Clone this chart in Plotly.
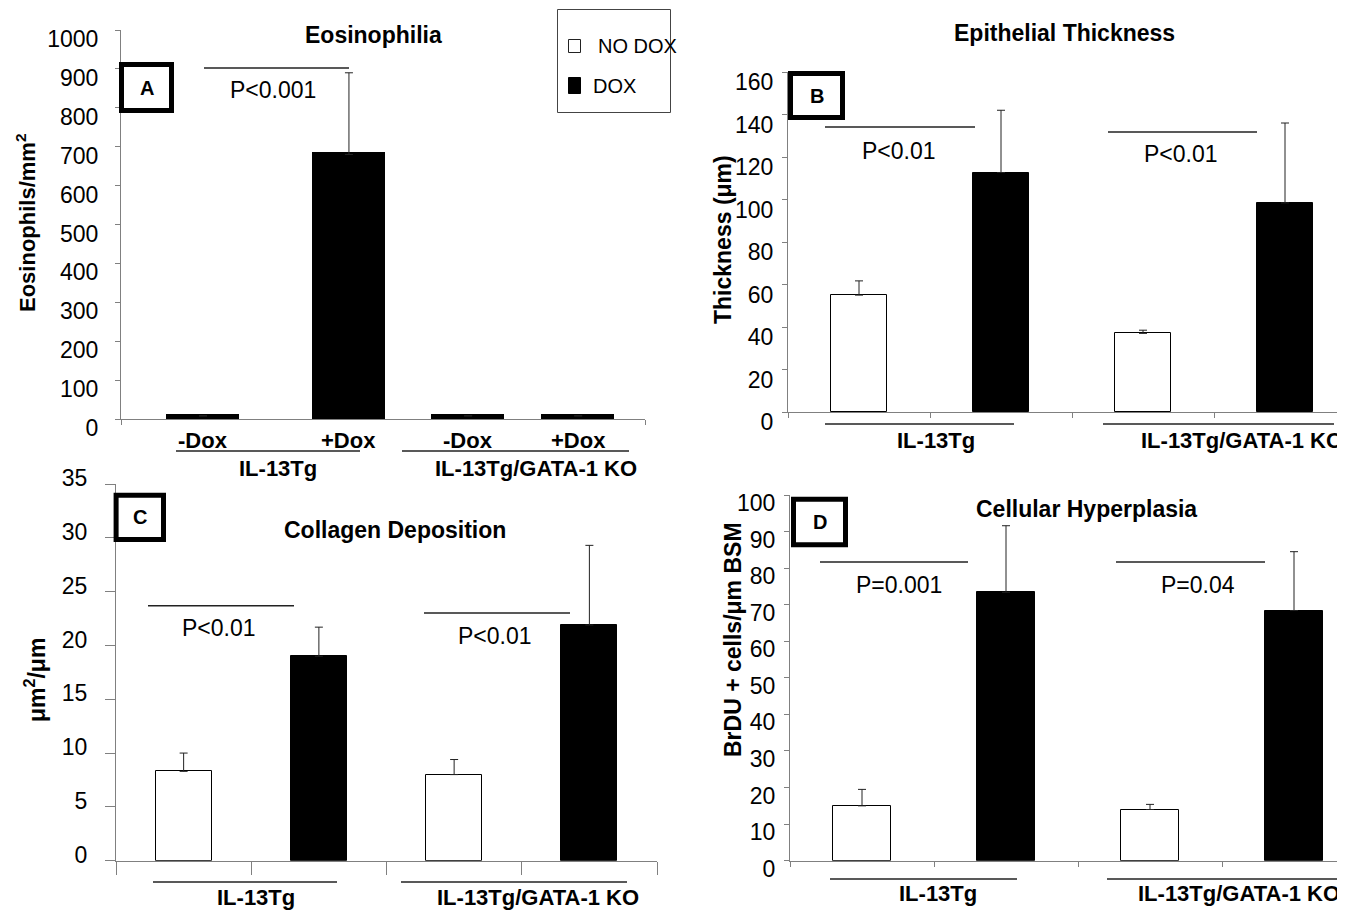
import plotly.graph_objects as go

# ---------------- data ----------------
eos_labels = ["-Dox", "+Dox", "-Dox", "+Dox"]
eos_mean = [8, 680, 8, 8]
eos_err = [0, 210, 0, 0]

groups = ["IL-13Tg", "IL-13Tg/GATA-1 KO"]
conditions = ["NO DOX", "DOX", "NO DOX", "DOX"]

thick_mean = [55, 112.7, 37, 98.4]
thick_err = [6.7, 29.3, 1.5, 37.6]

coll_mean = [8.3, 19.0, 8.0, 21.9]
coll_err = [1.7, 2.7, 1.4, 7.4]

brdu_mean = [15.0, 73.4, 14.0, 68.4]
brdu_err = [4.5, 18.2, 1.4, 16.1]

pvals_A = ["P<0.001"]
pvals_B = ["P<0.01", "P<0.01"]
pvals_C = ["P<0.01", "P<0.01"]
pvals_D = ["P=0.001", "P=0.04"]

# ---------------- layout helpers ----------------
# the page body has an 8px margin, so the figure is placed at (8, 8)
OFF = 8
W, H = 1345 - OFF, 910 - OFF
FONT = "Liberation Sans, Arial, sans-serif"


def px(x):
    return (x - OFF) / W


def py(y):
    return 1 - (y - OFF) / H


fill = {"NO DOX": "white", "DOX": "black"}
bar_colors = [fill[c] for c in conditions]
cat_pos = [0, 1, 2, 3]
eos_pos = [0.626, 1.74, 2.65, 3.49]

fig = go.Figure()


def add_bars(x, y, err, colors, xa, ya, width, lw=1):
    fig.add_trace(go.Bar(
        x=x, y=y, width=width,
        marker=dict(color=colors, line=dict(color="black", width=lw)),
        error_y=dict(type="data", symmetric=False, array=err,
                     arrayminus=[0] * len(err), color="#222", thickness=1, width=4),
        xaxis=xa, yaxis=ya, showlegend=False, hoverinfo="y",
    ))


add_bars(eos_pos, eos_mean, eos_err, ["black"] * 4, "x", "y", 0.53, lw=3)
add_bars(cat_pos, thick_mean, thick_err, bar_colors, "x2", "y2", 0.40)
add_bars(cat_pos, coll_mean, coll_err, bar_colors, "x3", "y3", 0.415)
add_bars(cat_pos, brdu_mean, brdu_err, bar_colors, "x4", "y4", 0.40)

AX = dict(showgrid=False, zeroline=False, showline=True, linecolor="#808080",
          linewidth=1, ticks="outside", tickcolor="#808080", fixedrange=True)
TICKFONT = dict(family=FONT, size=23, color="black")

layout = dict(
    width=W, height=H, margin=dict(l=0, r=0, t=0, b=0, pad=0, autoexpand=False),
    paper_bgcolor="white", plot_bgcolor="white",
    bargap=0, showlegend=False,
    font=dict(family=FONT, color="black"),
    # Panel A
    xaxis=dict(AX, domain=[px(121), px(645)], range=[0, 4], anchor="y",
               tickmode="array", tickvals=[0, 4], showticklabels=False, ticklen=5),
    yaxis=dict(AX, domain=[py(419), py(30)], range=[0, 1000], anchor="x",
               tickmode="linear", tick0=0, dtick=100, ticklen=5,
               tickfont=TICKFONT, ticklabelstandoff=12, ticklabelshift=9),
    # Panel B
    xaxis2=dict(AX, domain=[px(788), 1.0], range=[-0.5, -0.5 + (1345 - 788) / 142],
                anchor="y2", tickmode="array", tickvals=[-0.5, 0.5, 1.5, 2.5, 3.5],
                showticklabels=False, ticklen=5),
    yaxis2=dict(AX, domain=[py(412), py(72)], range=[0, 160], anchor="x2",
                tickmode="linear", tick0=0, dtick=20, ticklen=5,
                tickfont=TICKFONT, ticklabelstandoff=4, ticklabelshift=10),
    # Panel C
    xaxis3=dict(AX, domain=[px(116), px(657)], range=[-0.5, 3.5], anchor="y3",
                tickmode="array", tickvals=[-0.5, 0.5, 1.5, 2.5, 3.5],
                showticklabels=False, ticklen=13),
    yaxis3=dict(AX, domain=[py(860.7), py(484)], range=[0, 35], anchor="x3",
                tickmode="linear", tick0=0, dtick=5, ticklen=10,
                tickfont=TICKFONT, ticklabelstandoff=13, ticklabelshift=-6),
    # Panel D
    xaxis4=dict(AX, domain=[px(790), 1.0], range=[-0.5, -0.5 + (1345 - 790) / 144],
                anchor="y4", tickmode="array", tickvals=[-0.5, 0.5, 1.5, 2.5, 3.5],
                showticklabels=False, ticklen=5),
    yaxis4=dict(AX, domain=[py(860.7), py(495)], range=[0, 100], anchor="x4",
                tickmode="linear", tick0=0, dtick=10, ticklen=5,
                tickfont=TICKFONT, ticklabelstandoff=4, ticklabelshift=8),
)
fig.update_layout(**layout)

annotations = []
shapes = []


def text(t, x, y, size, bold=False, xanchor="center", angle=0, xref="paper"):
    annotations.append(dict(
        text=t, x=x if xref != "paper" else px(x), y=py(y), xref=xref, yref="paper",
        xanchor=xanchor, yanchor="middle", showarrow=False, textangle=angle,
        font=dict(family=FONT, size=size, color="black",
                  weight="bold" if bold else "normal"),
    ))


def hline(x0, x1, y, color="#222", w=1.5):
    shapes.append(dict(type="line", xref="paper", yref="paper",
                       x0=px(x0), x1=px(x1), y0=py(y), y1=py(y),
                       line=dict(color=color, width=w)))


def box(x0, y0, x1, y1, w=5, fillc="white", color="black"):
    i = w / 2
    shapes.append(dict(type="rect", xref="paper", yref="paper",
                       x0=px(x0 + i), x1=px(x1 - i), y0=py(y1 - i), y1=py(y0 + i),
                       line=dict(color=color, width=w), fillcolor=fillc))


# panel titles
text("Eosinophilia", 373, 35, 23, True)
text("Epithelial Thickness", 1064, 33, 23, True)
text("Collagen Deposition", 395, 530, 23, True)
text("Cellular Hyperplasia", 1086, 509, 23, True)

# y-axis titles
text("Eosinophils/mm<sup>2</sup>", 26, 223, 22, True, angle=-90)
text("Thickness (μm)", 723, 240, 23, True, angle=-90)
text("μm<sup>2</sup>/μm", 35, 680, 23, True, angle=-90)
text("BrDU + cells/μm BSM", 733, 640, 23, True, angle=-90)

# panel letter boxes
for (lab, x0, y0, x1, y1) in [("A", 119, 62, 174, 113), ("B", 788, 71, 845, 120),
                              ("C", 113.6, 492.7, 166, 542), ("D", 791, 496.7, 848, 547.3)]:
    box(x0, y0, x1, y1)
    text(lab, (x0 + x1) / 2, (y0 + y1) / 2, 20, True)

# p-value brackets
hline(204, 349, 68)
text(pvals_A[0], 273, 90, 23)
hline(825, 975, 127)
text(pvals_B[0], 899, 151, 23)
hline(1108, 1257, 132)
text(pvals_B[1], 1181, 154, 23)
hline(148, 294, 605.7)
text(pvals_C[0], 219, 628, 23)
hline(424, 570, 613)
text(pvals_C[1], 495, 636, 23)
hline(820, 968, 562)
text(pvals_D[0], 899, 585, 23)
hline(1116, 1265, 562)
text(pvals_D[1], 1198, 585, 23)

# panel A category labels
for lab, xp in zip(eos_labels, eos_pos):
    text(lab, xp, 440, 22, True, xref="x")

# group underlines and labels
hline(176, 360, 451)
hline(402, 629, 451)
text(groups[0], 278, 468, 22, True)
text(groups[1], 536, 468, 22, True)

hline(825, 1014, 424)
hline(1103, 1334, 424)
text(groups[0], 936, 440, 22, True)
text(groups[1], 1242, 440, 22, True)

hline(153, 337, 882)
hline(401, 627, 882)
text(groups[0], 256, 897, 22, True)
text(groups[1], 538, 897, 22, True)

hline(830, 1017, 879)
hline(1107, 1338, 879)
text(groups[0], 938, 893, 22, True)
text(groups[1], 1239, 893, 22, True)

# legend
box(557, 9, 671, 113, w=1, color="#444")
box(568, 39, 581, 53, w=1, color="#222")
box(568, 77, 581, 94, w=1, color="black", fillc="black")
text("NO DOX", 596, 46, 20, xanchor="left")
text("DOX", 591, 86, 20, xanchor="left")

fig.update_layout(annotations=annotations, shapes=shapes)
fig.write_html("out.html")
